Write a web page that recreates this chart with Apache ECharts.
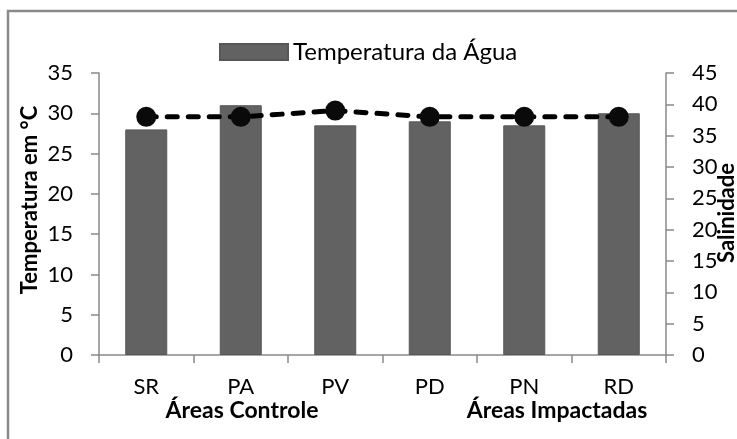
<!DOCTYPE html>
<html>
<head>
<meta charset="utf-8">
<script src="https://cdn.jsdelivr.net/npm/echarts@6/dist/echarts.min.js"></script>
<style>
html,body{margin:0;padding:0;background:#fff;}
#chart{width:737px;height:439px;}
</style>
</head>
<body>
<div id="chart"></div>
<script>
const categories = ['SR', 'PA', 'PV', 'PD', 'PN', 'RD'];
const temperatura = [28, 31, 28.5, 29, 28.5, 30];
const salinidade = [38, 38, 39, 38, 38, 38];
const leftTicks = {min: 0, max: 35, interval: 5};
const rightTicks = {min: 0, max: 45, interval: 5};
const groupLabels = ['Áreas Controle', 'Áreas Impactadas'];

const FONT = 'Lato';
const axisGrey = '#898989';

const chart = echarts.init(document.getElementById('chart'), null, {renderer: 'canvas'});
chart.setOption({
  animation: false,
  backgroundColor: '#fff',
  textStyle: {fontFamily: FONT},
  grid: {left: 99, right: 71, top: 73, bottom: 84},
  legend: {
    data: ['Temperatura da Água'],
    left: 214, top: 35,
    itemWidth: 68, itemHeight: 16, itemGap: 8,
    icon: 'rect',
    textStyle: {fontFamily: FONT, fontSize: 24, color: '#000'}
  },
  xAxis: {
    type: 'category',
    data: categories,
    boundaryGap: true,
    axisLine: {lineStyle: {color: axisGrey, width: 1.5}},
    axisTick: {show: true, length: 8, alignWithLabel: false, lineStyle: {color: axisGrey, width: 1.5}},
    axisLabel: {margin: 21, fontSize: 22, color: '#000', fontFamily: FONT},
    splitLine: {show: false}
  },
  yAxis: [
    {
      type: 'value', min: leftTicks.min, max: leftTicks.max, interval: leftTicks.interval,
      axisLine: {show: true, lineStyle: {color: axisGrey, width: 1.5}},
      axisTick: {show: true, length: 8, lineStyle: {color: axisGrey, width: 1.5}},
      axisLabel: {margin: 26, fontSize: 22, color: '#000', fontFamily: FONT},
      splitLine: {show: false}
    },
    {
      type: 'value', min: rightTicks.min, max: rightTicks.max, interval: rightTicks.interval,
      position: 'right',
      axisLine: {show: true, lineStyle: {color: axisGrey, width: 1.5}},
      axisTick: {show: true, length: 8, lineStyle: {color: axisGrey, width: 1.5}},
      axisLabel: {margin: 26, fontSize: 22, color: '#000', fontFamily: FONT},
      splitLine: {show: false}
    }
  ],
  series: [
    {
      name: 'Temperatura da Água',
      type: 'bar',
      data: temperatura,
      yAxisIndex: 0,
      barWidth: 42,
      itemStyle: {color: '#626262', borderColor: '#575757', borderWidth: 1}
    },
    {
      name: 'Salinidade',
      type: 'line',
      data: salinidade,
      yAxisIndex: 1,
      symbol: 'circle',
      symbolSize: 20,
      itemStyle: {color: '#0a0a0a'},
      lineStyle: {color: '#000', width: 5, type: [10, 11], cap: 'round'},
      z: 5
    }
  ],
  graphic: [
    {
      type: 'rect', silent: true, z: -1,
      shape: {x: 8, y: 11, width: 800, height: 500},
      style: {fill: 'none', stroke: '#8a8a8a', lineWidth: 2.5}
    },
    {
      type: 'text', silent: true,
      x: 30, y: 200, rotation: Math.PI / 2,
      style: {text: 'Temperatura em °C', font: 'bold 22px ' + FONT, fill: '#000', align: 'center', verticalAlign: 'middle'}
    },
    {
      type: 'text', silent: true,
      x: 727, y: 213, rotation: Math.PI / 2,
      style: {text: 'Salinidade', font: 'bold 22px ' + FONT, fill: '#000', align: 'center', verticalAlign: 'middle'}
    },
    {
      type: 'text', silent: true,
      x: 242, y: 411,
      style: {text: groupLabels[0], font: 'bold 23px ' + FONT, fill: '#000', align: 'center', verticalAlign: 'middle'}
    },
    {
      type: 'text', silent: true,
      x: 557, y: 411,
      style: {text: groupLabels[1], font: 'bold 23px ' + FONT, fill: '#000', align: 'center', verticalAlign: 'middle'}
    }
  ]
});
</script>
</body>
</html>
